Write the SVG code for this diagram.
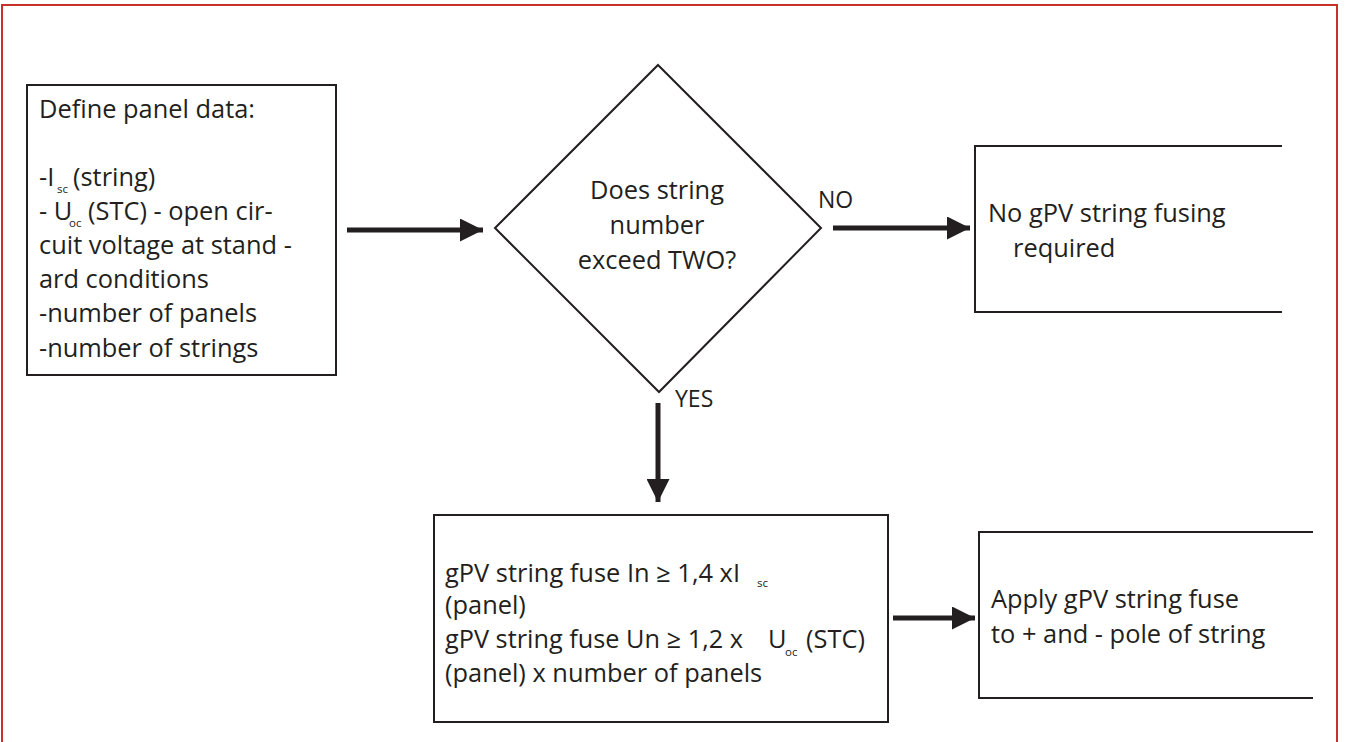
<svg xmlns="http://www.w3.org/2000/svg" width="1345" height="742" viewBox="0 0 1345 742">
<style>
.t{font-family:"Open Sans","Noto Sans","Liberation Sans",sans-serif;font-size:25.4px;fill:#231f20}
.s{font-size:11.5px}
.l{font-family:"Open Sans","Noto Sans","Liberation Sans",sans-serif;font-size:23px;fill:#231f20}
.box{fill:#fff;stroke:#231f20;stroke-width:2}
.open{fill:none;stroke:#231f20;stroke-width:2}
.conn{stroke:#231f20;stroke-width:5;fill:none}
</style>
<defs>
<marker id="ah" viewBox="0 0 10 10" refX="10" refY="5" markerWidth="5.6" markerHeight="4.6" orient="auto" markerUnits="strokeWidth">
<path d="M0,0 L10,5 L0,10 z" fill="#231f20"/>
</marker>
</defs>
<rect x="0" y="0" width="1345" height="742" fill="#fff"/>
<rect x="2" y="5" width="1335" height="745" fill="none" stroke="#c8302a" stroke-width="2"/>

<g id="define">
<rect class="box" x="27" y="85" width="309" height="290"/>
<text class="t" x="39" y="118">Define panel data:</text>
<text class="t" x="39" y="186">-I<tspan class="s" x="57" y="193">sc</tspan><tspan x="73" y="186">(string)</tspan></text>
<text class="t" x="39" y="220">- U<tspan class="s" x="69" y="227">oc</tspan><tspan x="88" y="220">(STC) - open cir-</tspan></text>
<text class="t" x="39" y="254">cuit voltage at stand  -</text>
<text class="t" x="39" y="288">ard conditions</text>
<text class="t" x="39" y="322">-number of panels</text>
<text class="t" x="39" y="357">-number of strings</text>
</g>

<g id="decision">
<polygon class="box" points="658,65 821,228 659,392 495,228"/>
<text class="t" x="657" y="199" text-anchor="middle">Does string</text>
<text class="t" x="657" y="234" text-anchor="middle">number</text>
<text class="t" x="657" y="269" text-anchor="middle">exceed TWO?</text>
</g>

<g id="nofuse">
<path class="open" d="M1282,146 H975 V312 H1282"/>
<text class="t" x="988" y="222">No gPV string fusing</text>
<text class="t" x="1013" y="257">required</text>
</g>

<g id="fuse">
<rect class="box" x="434" y="515" width="454" height="207"/>
<text class="t" x="445" y="582"><tspan textLength="295" lengthAdjust="spacingAndGlyphs">gPV string fuse In ≥ 1,4 xI</tspan><tspan class="s" x="757" y="587">sc</tspan></text>
<text class="t" x="445" y="614">(panel)</text>
<text class="t" x="445" y="648"><tspan textLength="298" lengthAdjust="spacingAndGlyphs">gPV string fuse Un ≥ 1,2 x</tspan><tspan x="768" y="648">U</tspan><tspan class="s" x="785" y="656">oc</tspan><tspan x="806" y="648">(STC)</tspan></text>
<text class="t" x="445" y="682">(panel) x number of panels</text>
</g>

<g id="apply">
<path class="open" d="M1313,532 H979 V698 H1313"/>
<text class="t" x="991" y="608">Apply gPV string fuse</text>
<text class="t" x="991" y="643">to + and - pole of string</text>
</g>

<g id="connectors">
<line class="conn" x1="347" y1="230" x2="483" y2="230" marker-end="url(#ah)"/>
<line class="conn" x1="833" y1="228" x2="970" y2="228" marker-end="url(#ah)"/>
<line class="conn" x1="658" y1="403" x2="658" y2="502" marker-end="url(#ah)"/>
<line class="conn" x1="893" y1="618" x2="975" y2="618" marker-end="url(#ah)"/>
<text class="l" x="818" y="208">NO</text>
<text class="l" x="675" y="407">YES</text>
</g>
</svg>
